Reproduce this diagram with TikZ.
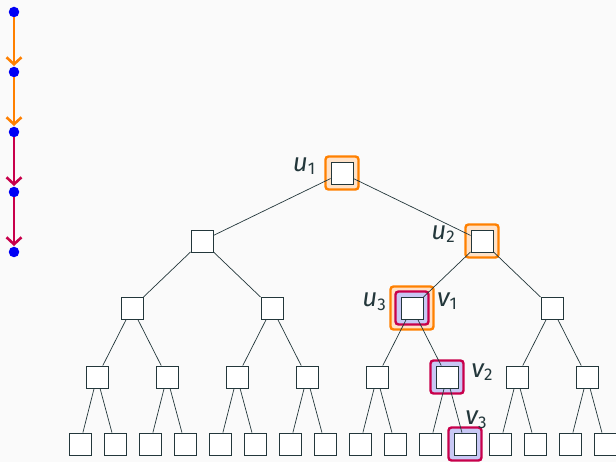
\documentclass[tikz,border=0pt]{standalone}
\usepackage{fontspec}
\setmainfont{Fira Sans}
\usetikzlibrary{arrows.meta}
\definecolor{bgc}{RGB}{250,250,250}
\definecolor{ink}{RGB}{35,55,59}
\definecolor{hlorange}{RGB}{255,128,0}
\definecolor{hlorangefill}{RGB}{255,226,200}
\definecolor{hlred}{RGB}{200,0,75}
\definecolor{hlbluefill}{RGB}{200,200,245}
\definecolor{dotblue}{RGB}{0,0,245}
\newcommand\lbl[2]{{\itshape #1}\raisebox{-3.5pt}{\fontsize{17pt}{17pt}\selectfont #2}}
\pgfdeclarelayer{bg}
\pgfdeclarelayer{hl}
\pgfdeclarelayer{edges}
\pgfsetlayers{bg,hl,edges,main}
\tikzset{
  x=1pt, y=-1pt,
  tnode/.style={draw=ink, fill=white, line width=0.9pt, minimum size=22pt, inner sep=0pt},
  tedge/.style={draw=ink, line width=0.7pt},
  ohl/.style={draw=hlorange, fill=hlorangefill, line width=2.4pt, rounded corners=3pt, inner sep=0pt},
  rhl/.style={draw=hlred, fill=hlbluefill, line width=2.4pt, rounded corners=3pt, inner sep=0pt},
  lab/.style={text=ink, font=\fontsize{26pt}{26pt}\selectfont, inner sep=0pt},
  dot/.style={circle, fill=dotblue, minimum size=10.5pt, inner sep=0pt},
  chain/.style={line width=2.6pt, -{Straight Barb[length=7pt,width=15pt,line width=2.6pt]}, shorten >=0.5pt},
}
\begin{document}
\begin{tikzpicture}
\begin{pgfonlayer}{bg}
\fill[bgc] (0,0) rectangle (616,462);
\end{pgfonlayer}
\useasboundingbox (0,0) rectangle (616,462);

% the path as a chain of steps
\node[dot] (d1) at (14,12) {};
\node[dot] (d2) at (14,72) {};
\node[dot] (d3) at (14,132) {};
\node[dot] (d4) at (14,192) {};
\node[dot] (d5) at (14,252) {};
\draw[chain, hlorange] (d1) -- (d2);
\draw[chain, hlorange] (d2) -- (d3);
\draw[chain, hlred] (d3) -- (d4);
\draw[chain, hlred] (d4) -- (d5);

% complete binary tree, heap numbering
\node[tnode] (t1) at (342,173) {};
\node[tnode] (t2) at (202,241) {};
\node[tnode] (t3) at (482,241) {};
\foreach \i/\x in {4/132,5/272,6/412,7/552}
  \node[tnode] (t\i) at (\x,308) {};
\foreach \k in {0,...,7}{
  \pgfmathtruncatemacro\i{8+\k}
  \node[tnode] (t\i) at (97+70*\k,377) {};
}
\foreach \k in {0,...,15}{
  \pgfmathtruncatemacro\i{16+\k}
  \node[tnode] (t\i) at (80+35*\k,444) {};
}
\begin{pgfonlayer}{edges}
\foreach \i in {1,...,15}{
  \pgfmathtruncatemacro\l{2*\i}
  \pgfmathtruncatemacro\r{2*\i+1}
  \draw[tedge] (t\i) -- (t\l);
  \draw[tedge] (t\i) -- (t\r);
}
\end{pgfonlayer}

% highlighted nodes
\begin{pgfonlayer}{hl}
\node[ohl, minimum size=33pt] (h1) at (t1) {};
\node[ohl, minimum size=33pt] (h3) at (t3) {};
\node[ohl, minimum size=43pt] (h6o) at (t6) {};
\node[rhl, minimum size=33pt] (h6r) at (t6) {};
\node[rhl, minimum size=33pt] (h13) at (t13) {};
\node[rhl, minimum size=33pt] (h27) at (t27) {};
\end{pgfonlayer}

% labels
\node[lab] (lu1) at (304,166) {\lbl{u}{1}};
\node[lab] (lu2) at (443,234) {\lbl{u}{2}};
\node[lab] (lu3) at (374,302) {\lbl{u}{3}};
\node[lab] (lv1) at (447,301) {\lbl{v}{1}};
\node[lab] (lv2) at (482,372) {\lbl{v}{2}};
\node[lab] (lv3) at (476,420) {\lbl{v}{3}};
\end{tikzpicture}
\end{document}
